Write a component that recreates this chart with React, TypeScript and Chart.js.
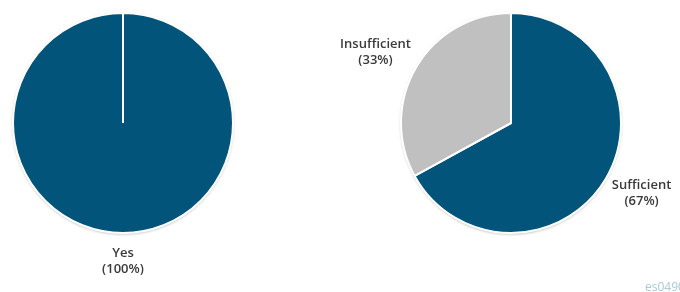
import React, { useEffect, useRef } from "react";
import { Chart, registerables } from "chart.js";

Chart.register(...registerables);

const leftLabels = ["Yes"];
const leftValues = [100];
const rightLabels = ["Sufficient", "Insufficient"];
const rightValues = [67, 33];
const sliceColors = ["#02547A", "#C0C0C0"];
const watermark = "es0490";

const W = 680;
const H = 292;

const outsideLabels = {
  id: "outsideLabels",
  beforeDatasetsDraw(chart: any) {
    const meta = chart.getDatasetMeta(0);
    const arc = meta.data[0];
    if (!arc) return;
    const { x, y, outerRadius } = arc.getProps(["x", "y", "outerRadius"], true);
    const ctx = chart.ctx;
    ctx.save();
    ctx.beginPath();
    ctx.arc(x, y, outerRadius, 0, Math.PI * 2);
    ctx.shadowColor = "rgba(0,0,0,0.35)";
    ctx.shadowBlur = 3;
    ctx.shadowOffsetX = 0;
    ctx.shadowOffsetY = 1;
    ctx.fillStyle = "#e8e8e8";
    ctx.fill();
    ctx.restore();
  },
  afterDatasetsDraw(chart: any) {
    const ctx = chart.ctx;
    const meta = chart.getDatasetMeta(0);
    const labels = chart.data.labels as string[];
    const values = chart.data.datasets[0].data as number[];
    const total = values.reduce((a: number, b: number) => a + b, 0);
    ctx.save();
    ctx.font = "600 13px 'Open Sans'";
    ctx.fillStyle = "#3a3a3a";
    ctx.textAlign = "center";
    ctx.textBaseline = "middle";
    const lh = 16.5;
    meta.data.forEach((el: any, i: number) => {
      const { x, y, startAngle, endAngle, outerRadius } = el.getProps(
        ["x", "y", "startAngle", "endAngle", "outerRadius"],
        true
      );
      const mid = (startAngle + endAngle) / 2;
      const dx = Math.cos(mid);
      const dy = Math.sin(mid);
      const l1 = labels[i];
      const l2 = "(" + Math.round((values[i] / total) * 100) + "%)";
      const w = Math.max(ctx.measureText(l1).width, ctx.measureText(l2).width);
      const h = lh * 2;
      const ax = x + dx * (outerRadius + 12);
      const ay = y + dy * (outerRadius + 12);
      const cx = ax + (dx * w) / 2;
      const cy = ay + (dy * h) / 2;
      ctx.fillText(l1, cx, cy - lh / 2);
      ctx.fillText(l2, cx, cy + lh / 2);
    });
    ctx.restore();
  },
};

function PieCanvas(props: {
  labels: string[];
  values: number[];
  padding: { left: number; right: number; top: number; bottom: number };
}) {
  const ref = useRef<HTMLCanvasElement | null>(null);
  useEffect(() => {
    if (!ref.current) return;
    const chart = new Chart(ref.current, {
      type: "pie",
      data: {
        labels: props.labels,
        datasets: [
          {
            data: props.values,
            backgroundColor: sliceColors.slice(0, props.values.length),
            borderColor: "#ffffff",
            borderWidth: 2,
            hoverOffset: 0,
          },
        ],
      },
      options: {
        responsive: false,
        animation: false,
        events: [],
        layout: { padding: props.padding },
        plugins: {
          legend: { display: false },
          tooltip: { enabled: false },
        },
      },
      plugins: [outsideLabels],
    });
    return () => chart.destroy();
  }, []);
  return (
    <canvas
      ref={ref}
      width={W}
      height={H}
      style={{ position: "absolute", left: 0, top: 0, width: W, height: H }}
    />
  );
}

export default function App() {
  return (
    <div
      style={{
        position: "fixed",
        left: 0,
        top: 0,
        width: W,
        height: H,
        overflow: "hidden",
        background: "#ffffff",
      }}
    >
      <PieCanvas
        labels={leftLabels}
        values={leftValues}
        padding={{ left: 12, top: 12, right: W - 234, bottom: H - 234 }}
      />
      <PieCanvas
        labels={rightLabels}
        values={rightValues}
        padding={{ left: 400, top: 12, right: W - 622, bottom: H - 234 }}
      />
      <div
        style={{
          position: "absolute",
          left: 645,
          top: 278,
          fontFamily: "'Open Sans', sans-serif",
          fontSize: 12,
          color: "#a9c9d6",
          whiteSpace: "nowrap",
        }}
      >
        {watermark}
      </div>
    </div>
  );
}
